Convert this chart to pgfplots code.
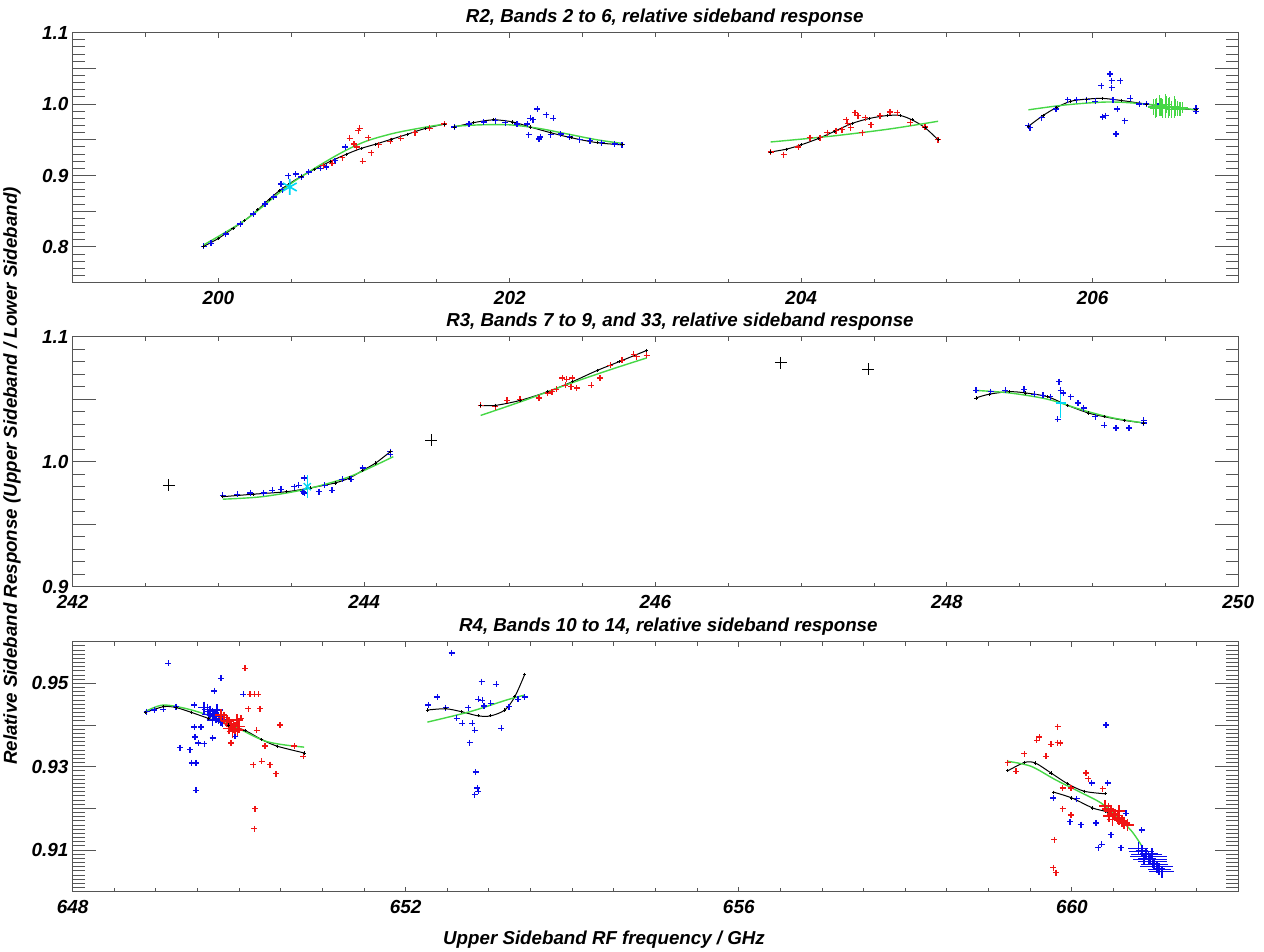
\documentclass[border=0pt]{standalone}
\usepackage{fontspec}
\setmainfont{Liberation Sans}
\usepackage{pgfplots}
\pgfplotsset{compat=1.18}

\definecolor{framegray}{RGB}{85,85,85}
\definecolor{fitgreen}{RGB}{70,215,70}
\definecolor{bandblue}{RGB}{10,10,235}
\definecolor{bandred}{RGB}{240,20,20}
\definecolor{bandcyan}{RGB}{0,215,245}

\newcommand{\ticklabelfont}{\fontsize{19}{19}\selectfont\bfseries\itshape}
\newcommand{\titlefont}{\fontsize{18.8}{18.8}\selectfont\bfseries\itshape}
\newcommand{\labelfont}{\fontsize{18.8}{18.8}\selectfont\bfseries\itshape}

\pgfplotsset{
  panel/.style={
    scale only axis, width=1165.6bp, height=250bp, anchor=south west,
    axis line style={framegray, line width=1.3bp},
    tick style={framegray, line width=1bp},
    tick align=inside,
  },
  xframe/.style={panel, ytick=\empty, major tick length=5bp, minor tick length=4bp,
    x tick label style={font=\ticklabelfont, inner sep=0pt, yshift=-8.5bp, anchor=north},
    every axis title/.style={at={(0.5,1)}, anchor=base, yshift=10bp, font=\titlefont, inner sep=0pt}},
  yframe/.style={panel, xtick=\empty, major tick length=23bp, minor tick length=12bp,
    y tick label style={font=\ticklabelfont, inner sep=0pt, xshift=-4bp, anchor=east}},
  pts/.style={only marks, mark=+, mark size=3bp, color=#1, mark options={draw=#1, line width=1.3bp}},
  bigpts/.style={only marks, mark=+, mark size=6bp, color=#1, mark options={draw=#1, line width=1.6bp}},
  lone/.style={only marks, color=black, mark=+, mark size=6bp, mark options={draw=black, line width=0.9bp}},
  bfit/.style={black, line width=1bp, smooth, mark=+, mark size=1.6bp, mark options={draw=black, line width=0.8bp}},
  gfit/.style={fitgreen, line width=1.4bp, smooth, no marks},
  ybar err/.style={error bars/.cd, y dir=both, y explicit, error mark=none,
    error bar style={draw=#1, line width=1.1bp}},
  xbar err/.style={error bars/.cd, x dir=both, x explicit, error mark=none,
    error bar style={draw=#1, line width=1bp}},
}

\begin{document}
\begin{tikzpicture}
\path[use as bounding box] (0,0) rectangle (1264bp,952bp);

% ---------------- R2 ----------------
\begin{axis}[xframe, at={(72.7bp,669.3bp)}, xmin=199, xmax=207, ymin=0.75, ymax=1.1,
  xtick={200,202,204,206}, xticklabels={200,202,204,206},
  minor xtick={199.5,200.5,201,201.5,202.5,203,203.5,204.5,205,205.5,206.5},
  title={R2, Bands 2 to 6, relative sideband response}, title style={at={(0.508,1)}}]
\end{axis}
\begin{axis}[yframe, at={(72.7bp,669.3bp)}, xmin=199, xmax=207, ymin=0.75, ymax=1.1,
  ytick={0.75,0.80,0.85,0.90,0.95,1.00,1.05,1.10}, yticklabels={,0.8,,0.9,,1.0,,1.1},
  minor y tick num=4]
% band near 200-201.5
\addplot[pts=bandblue] coordinates {
 (199.90,0.801) (199.95,0.805) (200.05,0.818) (200.15,0.832) (200.24,0.846)
 (200.32,0.860) (200.38,0.870) (200.43,0.888) (200.44,0.880) (200.48,0.900)
 (200.53,0.902) (200.57,0.898) (200.62,0.905) (200.70,0.910) (200.74,0.912)
 (200.80,0.921) (200.87,0.940)};
\addplot[pts=bandred] coordinates {
 (200.72,0.914) (200.78,0.917) (200.85,0.925) (200.90,0.952) (200.93,0.944)
 (200.95,0.940) (200.96,0.963) (200.97,0.966) (200.99,0.920) (201.03,0.953)
 (201.05,0.932) (201.10,0.943) (201.18,0.948) (201.25,0.952) (201.35,0.960)
 (201.45,0.966) (201.55,0.972)};
\addplot[bfit] coordinates {
 (199.90,0.801) (200.00,0.812) (200.10,0.826) (200.18,0.837) (200.27,0.852)
 (200.35,0.867) (200.42,0.879) (200.49,0.889) (200.57,0.899) (200.66,0.909)
 (200.77,0.920) (200.88,0.930) (200.98,0.938) (201.08,0.944) (201.19,0.951)
 (201.30,0.958) (201.42,0.966) (201.55,0.972)};
\addplot[gfit] coordinates {
 (199.90,0.803) (200.20,0.840) (200.50,0.889) (200.80,0.927) (201.00,0.947)
 (201.20,0.959) (201.40,0.967) (201.55,0.972)};
\addplot[only marks, color=bandcyan, mark=asterisk, mark size=8bp,
  mark options={draw=bandcyan, line width=1.6bp}] coordinates {(200.49,0.884)};
% band near 202
\addplot[pts=bandblue] coordinates {
 (201.62,0.968) (201.72,0.972) (201.82,0.975) (201.90,0.977) (201.97,0.974)
 (202.05,0.972) (202.12,0.972) (202.16,0.978) (202.19,0.993) (202.25,0.985)
 (202.14,0.980) (202.13,0.957) (202.20,0.951) (202.21,0.954) (202.28,0.957)
 (202.30,0.980) (202.35,0.958) (202.41,0.954) (202.48,0.950) (202.55,0.949)
 (202.63,0.946) (202.72,0.944) (202.77,0.943)};
\addplot[bfit] coordinates {
 (201.62,0.968) (201.75,0.974) (201.89,0.978) (202.02,0.975) (202.14,0.968)
 (202.28,0.960) (202.42,0.953) (202.60,0.946) (202.77,0.943)};
\addplot[gfit] coordinates {
 (201.62,0.969) (201.80,0.971) (202.00,0.971) (202.20,0.966) (202.40,0.958)
 (202.60,0.950) (202.77,0.945)};
% band near 204.4
\addplot[pts=bandred] coordinates {
 (203.79,0.933) (203.88,0.929) (203.98,0.940) (204.06,0.953) (204.13,0.953)
 (204.18,0.960) (204.24,0.963) (204.28,0.964) (204.31,0.978) (204.32,0.973)
 (204.37,0.988) (204.39,0.984) (204.42,0.960) (204.34,0.967) (204.44,0.981)
 (204.48,0.971) (204.54,0.984) (204.61,0.989) (204.66,0.988) (204.75,0.974)
 (204.85,0.968) (204.94,0.950)};
\addplot[bfit] coordinates {
 (203.79,0.933) (203.90,0.937) (204.00,0.943) (204.12,0.952) (204.23,0.962)
 (204.35,0.973) (204.47,0.980) (204.59,0.984) (204.68,0.984) (204.76,0.978)
 (204.85,0.967) (204.94,0.950)};
\addplot[gfit] coordinates {
 (203.79,0.947) (204.20,0.955) (204.60,0.965) (204.94,0.976)};
% band near 206
\addplot[pts=bandblue] coordinates {
 (205.56,0.970) (205.57,0.967) (205.65,0.981) (205.75,0.993) (205.83,1.006)
 (205.89,1.006) (205.96,1.006) (206.02,1.004) (206.14,1.006) (206.32,1.000)
 (206.37,1.000) (206.45,0.997) (206.71,0.994) (206.71,0.990)
 (206.12,1.042) (206.13,1.033) (206.19,1.033) (206.06,1.026) (206.13,1.023)
 (206.09,0.984) (206.07,0.982) (206.17,0.993) (206.22,0.977) (206.16,0.958)
 (206.26,1.008)};
\addplot[bfit] coordinates {
 (205.56,0.969) (205.66,0.984) (205.75,0.995) (205.85,1.004) (205.96,1.007)
 (206.07,1.008) (206.20,1.005) (206.37,1.000) (206.54,0.995) (206.71,0.992)};
\addplot[gfit] coordinates {
 (205.56,0.992) (205.82,0.999) (206.11,1.003) (206.37,1.000) (206.71,0.992)};
\addplot[only marks, color=fitgreen, mark=+, mark size=5.5bp,
  mark options={draw=fitgreen, line width=1.1bp}, ybar err=fitgreen] coordinates {
 (206.42,0.996) +- (0,0.011) (206.43,0.994) +- (0,0.013) (206.44,0.995) +- (0,0.013)
 (206.46,0.998) +- (0,0.015) (206.47,0.996) +- (0,0.012) (206.48,0.994) +- (0,0.013)
 (206.50,0.997) +- (0,0.017) (206.51,0.999) +- (0,0.012) (206.52,0.995) +- (0,0.014)
 (206.53,0.997) +- (0,0.013) (206.54,0.993) +- (0,0.012) (206.56,0.996) +- (0,0.015)
 (206.57,0.995) +- (0,0.012) (206.58,0.994) +- (0,0.011) (206.60,0.993) +- (0,0.010)
 (206.62,0.995) +- (0,0.008)};
\end{axis}

% ---------------- R3 ----------------
\begin{axis}[xframe, at={(72.7bp,365.3bp)}, xmin=242, xmax=250, ymin=0.9, ymax=1.1,
  xtick={242,244,246,248,250}, xticklabels={242,244,246,248,250},
  minor xtick={242.5,243,243.5,244.5,245,245.5,246.5,247,247.5,248.5,249,249.5},
  title={R3, Bands 7 to 9, and 33, relative sideband response}, title style={at={(0.521,1)}}]
\end{axis}
\begin{axis}[yframe, at={(72.7bp,365.3bp)}, xmin=242, xmax=250, ymin=0.9, ymax=1.1,
  ytick={0.90,0.95,1.00,1.05,1.10}, yticklabels={0.9,,1.0,,1.1}, minor y tick num=4]
\addplot[lone] coordinates {(242.66,0.981) (244.46,1.017) (246.86,1.079) (247.46,1.074)};
% band near 243.6
\addplot[pts=bandblue] coordinates {
 (243.03,0.973) (243.13,0.974) (243.22,0.975) (243.31,0.975) (243.37,0.977)
 (243.43,0.978) (243.52,0.980) (243.55,0.981) (243.59,0.987) (243.59,0.975)
 (243.58,0.976) (243.69,0.976) (243.73,0.981) (243.78,0.977) (243.85,0.986)
 (243.91,0.986) (243.99,0.995) (244.18,1.008) (244.18,1.006)};
\addplot[bfit] coordinates {
 (243.03,0.972) (243.24,0.974) (243.47,0.976) (243.63,0.979) (243.80,0.983)
 (243.90,0.987) (243.99,0.993) (244.08,0.999) (244.18,1.008)};
\addplot[gfit] coordinates {
 (243.03,0.970) (243.30,0.972) (243.60,0.978) (243.90,0.988) (244.20,1.004)};
\addplot[only marks, color=bandcyan, mark=x, mark size=5bp,
  mark options={draw=bandcyan, line width=1.4bp}, ybar err=bandcyan]
  coordinates {(243.61,0.980) +- (0,0.009)};
% band near 245.4
\addplot[pts=bandred] coordinates {
 (244.80,1.045) (244.90,1.044) (244.98,1.049) (245.07,1.050) (245.20,1.051)
 (245.26,1.055) (245.29,1.056) (245.32,1.058) (245.36,1.067) (245.39,1.066)
 (245.42,1.060) (245.43,1.067) (245.38,1.061) (245.46,1.059) (245.56,1.061)
 (245.62,1.067) (245.69,1.077) (245.77,1.081) (245.85,1.086) (245.87,1.084)
 (245.94,1.085)};
\addplot[bfit] coordinates {
 (244.80,1.045) (244.90,1.045) (245.07,1.049) (245.26,1.056) (245.43,1.064)
 (245.60,1.073) (245.75,1.080) (245.94,1.089)};
\addplot[gfit] coordinates {
 (244.80,1.037) (245.10,1.049) (245.40,1.062) (245.70,1.074) (245.94,1.083)};
% band near 248.8
\addplot[pts=bandblue] coordinates {
 (248.20,1.057) (248.30,1.056) (248.40,1.057) (248.53,1.058) (248.60,1.054)
 (248.66,1.053) (248.71,1.052) (248.77,1.064) (248.78,1.057) (248.80,1.055)
 (248.85,1.052) (248.90,1.047) (248.76,1.034) (248.94,1.043) (249.02,1.036)
 (249.08,1.029) (249.16,1.027) (249.25,1.027) (249.35,1.033) (249.35,1.031)};
\addplot[bfit] coordinates {
 (248.20,1.051) (248.29,1.054) (248.43,1.056) (248.54,1.055) (248.69,1.052)
 (248.83,1.045) (248.97,1.039) (249.08,1.036) (249.22,1.033) (249.35,1.031)};
\addplot[gfit] coordinates {
 (248.20,1.057) (248.43,1.055) (248.69,1.050) (248.94,1.041) (249.14,1.035)
 (249.35,1.031)};
\addplot[only marks, color=bandcyan, mark=+, mark size=5bp,
  mark options={draw=bandcyan, line width=1.4bp}, ybar err=bandcyan]
  coordinates {(248.78,1.047) +- (0,0.012)};
\end{axis}

% ---------------- R4 ----------------
\begin{axis}[xframe, at={(72.7bp,60.3bp)}, xmin=648, xmax=662, ymin=0.90, ymax=0.96,
  xtick={648,652,656,660}, xticklabels={648,652,656,660},
  minor xtick={648.5,649,649.5,650,650.5,651,651.5,652.5,653,653.5,654,654.5,655,655.5,
    656.5,657,657.5,658,658.5,659,659.5,660.5,661,661.5},
  title={R4, Bands 10 to 14, relative sideband response}, title style={at={(0.511,1)}}]
\end{axis}
\begin{axis}[yframe, at={(72.7bp,60.3bp)}, xmin=648, xmax=662, ymin=0.90, ymax=0.96,
  ytick={0.90,0.91,0.92,0.93,0.94,0.95,0.96}, yticklabels={,0.91,,0.93,,0.95,},
  minor y tick num=9]
% band near 649.8
\addplot[pts=bandblue] coordinates {
 (648.89,0.9432) (648.98,0.9436) (649.09,0.9438) (649.15,0.9548) (649.24,0.9444)
 (649.46,0.9448) (649.78,0.9512) (649.70,0.9482) (650.05,0.9474) (649.46,0.9395)
 (649.54,0.9395) (649.47,0.9371) (649.51,0.9357) (649.58,0.9355) (649.29,0.9346)
 (649.41,0.9341) (649.43,0.9309) (649.48,0.9309) (649.48,0.9243) (649.68,0.9369)
 (649.95,0.9373)};
\addplot[pts=bandred] coordinates {
 (650.07,0.9536) (650.13,0.9474) (650.18,0.9474) (650.23,0.9474) (650.11,0.9439)
 (650.25,0.9439) (650.49,0.9400) (650.21,0.9387) (650.17,0.9305) (650.27,0.9313)
 (650.37,0.9305) (650.44,0.9283) (650.19,0.9199) (650.18,0.9151) (649.90,0.9357)
 (650.31,0.9350) (650.66,0.9350) (650.77,0.9325) (650.02,0.9416)};
\addplot[bigpts=bandblue] coordinates {
 (649.58,0.9442) (649.62,0.9437) (649.65,0.9432) (649.68,0.9427) (649.70,0.9424)
 (649.72,0.9420) (649.75,0.9416) (649.78,0.9413) (649.80,0.9410) (649.68,0.9412)
 (649.73,0.9436) (649.63,0.9425)};
\addplot[bigpts=bandred] coordinates {
 (649.78,0.9424) (649.82,0.9418) (649.85,0.9410) (649.88,0.9404) (649.90,0.9400)
 (649.93,0.9396) (649.95,0.9392) (649.98,0.9388) (650.00,0.9396) (649.88,0.9392)
 (649.97,0.9412) (649.92,0.9384)};
\addplot[bfit] coordinates {
 (648.87,0.9430) (649.09,0.9444) (649.24,0.9442) (649.43,0.9430) (649.63,0.9416)
 (649.87,0.9400) (650.07,0.9387) (650.27,0.9365) (650.46,0.9349) (650.78,0.9333)};
\addplot[gfit] coordinates {
 (648.87,0.9432) (649.09,0.9448) (649.43,0.9436) (649.83,0.9408) (650.32,0.9361)
 (650.78,0.9347)};
% band near 652.8
\addplot[pts=bandblue] coordinates {
 (652.55,0.9573) (652.91,0.9504) (653.09,0.9498) (652.38,0.9467) (652.27,0.9448)
 (652.48,0.9442) (652.75,0.9442) (652.87,0.9462) (652.92,0.9459) (652.94,0.9446)
 (653.02,0.9452) (653.24,0.9444) (653.35,0.9462) (653.43,0.9467) (652.61,0.9416)
 (652.68,0.9404) (652.80,0.9404) (652.83,0.9387) (652.77,0.9358) (653.15,0.9392)
 (652.84,0.9287) (652.86,0.9249) (652.83,0.9233) (652.87,0.9241)};
\addplot[bfit] coordinates {
 (652.26,0.9436) (652.48,0.9439) (652.67,0.9432) (652.87,0.9422) (653.02,0.9422)
 (653.19,0.9436) (653.31,0.9468) (653.43,0.9522)};
\addplot[gfit] coordinates {
 (652.26,0.9407) (652.77,0.9432) (653.21,0.9460) (653.43,0.9472)};
% band near 660
\addplot[pts=bandred] coordinates {
 (659.83,0.9396) (659.61,0.9371) (659.58,0.9363) (659.75,0.9354) (659.83,0.9358)
 (659.86,0.9357) (659.43,0.9331) (659.69,0.9325) (659.33,0.9289) (660.17,0.9285)
 (659.89,0.9249) (659.99,0.9249) (660.20,0.9271) (660.37,0.9247) (659.89,0.9199)
 (659.99,0.9184) (659.79,0.9125) (659.78,0.9058) (659.81,0.9046) (659.23,0.9310)};
\addplot[pts=bandblue] coordinates {
 (660.41,0.9400) (660.24,0.9261) (660.43,0.9261) (659.78,0.9225) (660.06,0.9223)
 (659.98,0.9168) (660.11,0.9161) (660.29,0.9165) (660.65,0.9188) (660.84,0.9148)
 (660.47,0.9137) (660.36,0.9114) (660.32,0.9106) (660.59,0.9106)};
\addplot[bfit] coordinates {
 (659.23,0.9290) (659.43,0.9310) (659.56,0.9309) (659.75,0.9285) (659.95,0.9259)
 (660.15,0.9241) (660.40,0.9235)};
\addplot[bfit] coordinates {
 (659.78,0.9239) (660.00,0.9225) (660.25,0.9201) (660.40,0.9193) (660.49,0.9185)};
\addplot[gfit] coordinates {
 (659.23,0.9313) (659.51,0.9301) (659.80,0.9269) (660.10,0.9239) (660.35,0.9213)
 (660.54,0.9181) (660.72,0.9145) (660.84,0.9110)};
\addplot[bigpts=bandred] coordinates {
 (660.40,0.9205) (660.44,0.9199) (660.47,0.9193) (660.50,0.9187) (660.52,0.9183)
 (660.55,0.9178) (660.57,0.9175) (660.60,0.9170) (660.63,0.9165) (660.67,0.9160)
 (660.49,0.9173) (660.57,0.9193) (660.45,0.9182)};
\addplot[bigpts=bandblue, xbar err=bandblue] coordinates {
 (660.80,0.9104) +- (0.12,0) (660.84,0.9097) +- (0.15,0) (660.89,0.9090) +- (0.18,0)
 (660.92,0.9084) +- (0.22,0) (660.94,0.9078) +- (0.20,0) (660.97,0.9072) +- (0.17,0)
 (660.99,0.9066) +- (0.16,0) (661.02,0.9060) +- (0.20,0) (661.05,0.9054) +- (0.14,0)
 (660.87,0.9078) +- (0.10,0) (660.96,0.9090) +- (0.12,0) (661.08,0.9048) +- (0.15,0)};
\end{axis}

\node[font=\labelfont, anchor=center] at (604bp,12bp) {Upper Sideband RF frequency / GHz};
\node[font=\labelfont, anchor=center, rotate=90] at (12bp,476bp)
  {Relative Sideband Response (Upper Sideband / Lower Sideband)};
\end{tikzpicture}
\end{document}
